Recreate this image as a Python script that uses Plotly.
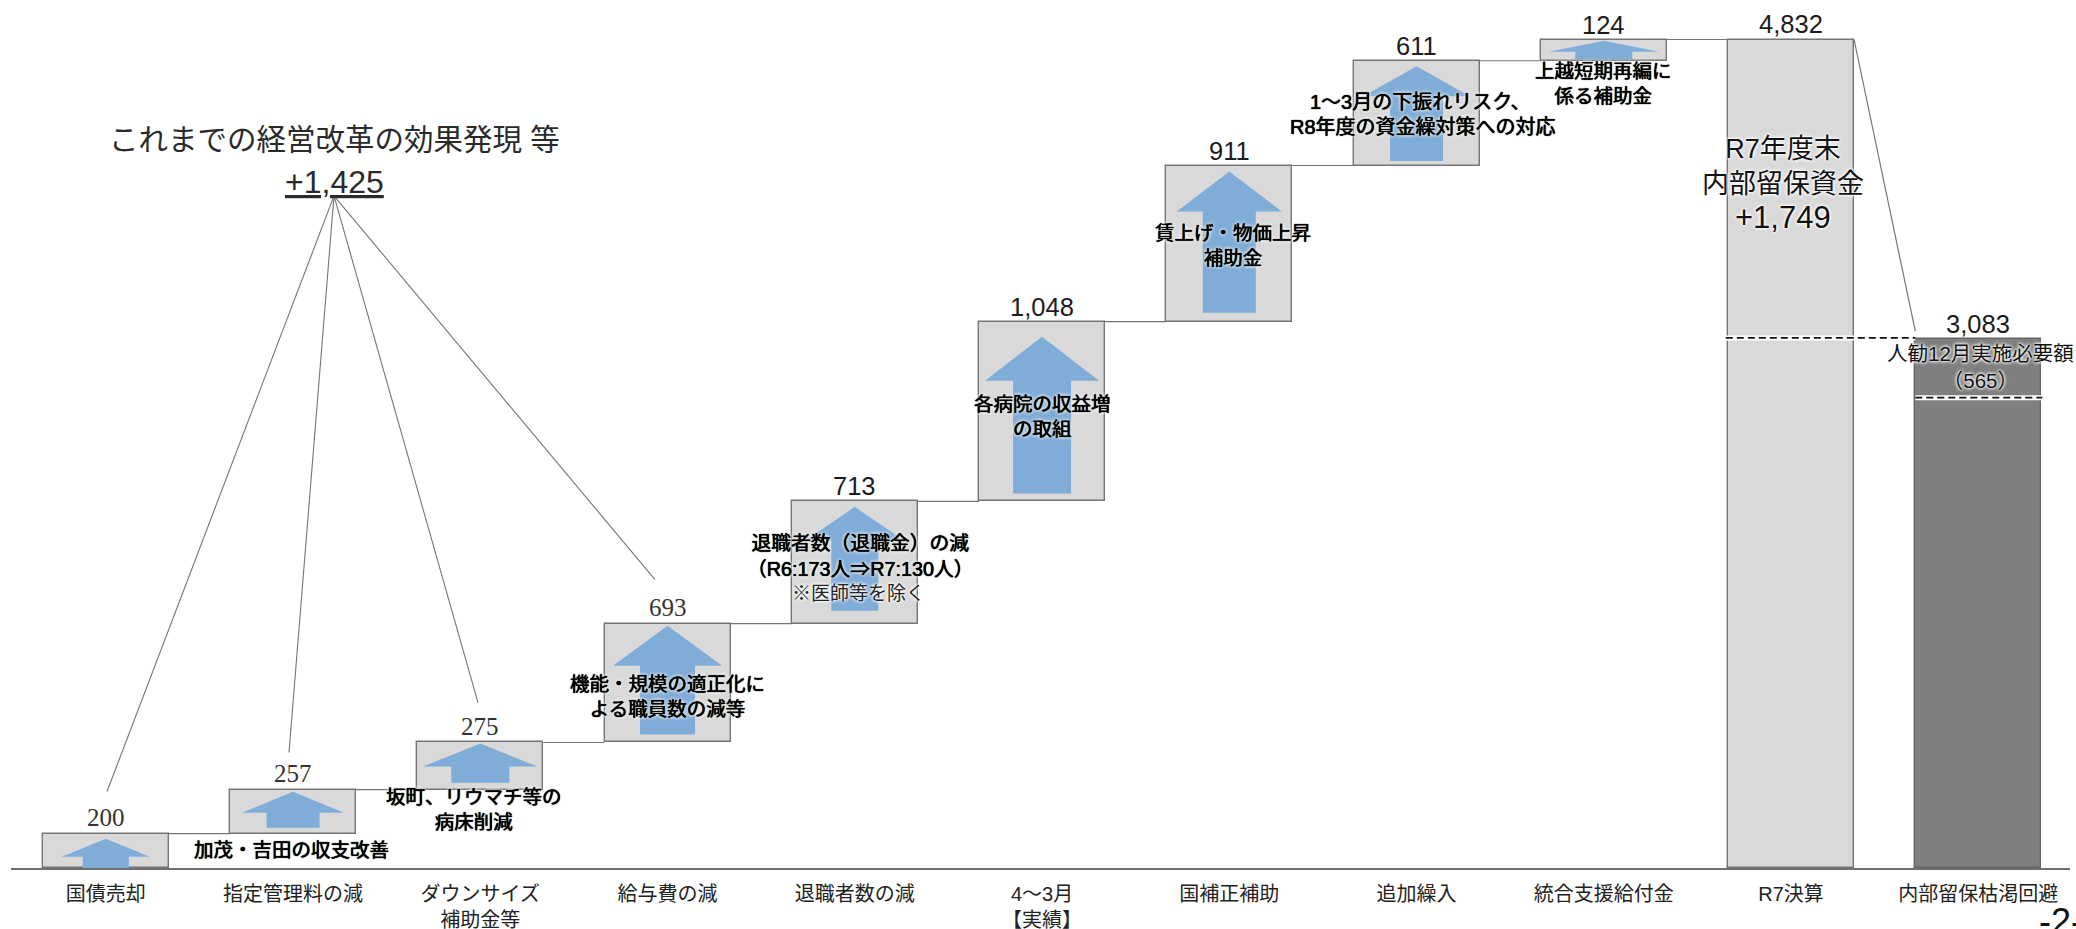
import plotly.graph_objects as go

# Fund balance build-up: each step adds to the running total, then two summary columns
categories = ["国債売却", "指定管理料の減", "ダウンサイズ<br>補助金等", "給与費の減", "退職者数の減",
              "4～3月<br>【実績】", "国補正補助", "追加繰入", "統合支援給付金", "R7決算", "内部留保枯渇回避"]
step_values = [200, 257, 275, 693, 713, 1048, 911, 611, 124]
settlement_total = 4832
depletion_total = 3083
retained_funds = 1749
review_amount = 565
split_level = 2743

# Page geometry
W, H = 2076, 929
M_L, M_R, M_B = 11, 6, 60.5
PX_PER_UNIT = 0.17156
PLOT_H = H - M_B
CENTER0, SPACING = 105.8, 187.25
BAR_W = 0.673

GREY_LINE = "#757575"
LIGHT = "#d9d9d9"
DARK = "#7f7f7f"
BLUE = "#7fadd8"
SANS = "Liberation Sans, Noto Sans CJK JP"
SERIF = "Liberation Serif, Noto Sans CJK JP"
HALO = "0 0 3px #fff, 0 0 3px #fff, 0 0 4px #fff"
# A hair of dark blur under the glyphs thickens them, on top of the white glow
HEAVY_HALO = "0 0 0.8px #000, 0 0 0.8px #000, 0 0 3px #fff, 0 0 3px #fff, 0 0 4px #fff"

# Arrow proportions per step, in pixels: head width, shaft width, tip inset, head height, foot inset
arrow_style = [
    (88, 46, 5, 18, 0),
    (102, 53, 2, 21, 6),
    (114, 58, 1, 23, 7),
    (109, 55, 2, 40, 8),
    (100, 47, 5.5, 34, 13),
    (114, 58, 15, 44, 8),
    (105, 53, 6, 40, 9),
    (106, 53, 5.5, 30, 4.5),
    (110, 57, 1.2, 11, 1.5),
]

bases, running = [], 0
for v in step_values:
    bases.append(running)
    running += v
tops = [b + v for b, v in zip(bases, step_values)]

n = len(categories)
x_idx = list(range(n))
heights = step_values + [settlement_total, depletion_total]
bar_bases = bases + [0, 0]
fills = [LIGHT] * (n - 1) + [DARK]
outlines = [GREY_LINE] * (n - 1) + ["#666666"]

fig = go.Figure()
fig.add_trace(go.Bar(
    x=x_idx, y=heights, base=bar_bases, width=BAR_W,
    marker=dict(color=fills, line=dict(color=outlines, width=1.4)),
    showlegend=False, hoverinfo="skip",
))

# Block arrows inside each step
for i, (base, top, style) in enumerate(zip(bases, tops, arrow_style)):
    head_w, shaft_w, tip_in, head_h, foot_in = style
    hw = head_w / 2 / SPACING
    sw = shaft_w / 2 / SPACING
    tip = top - tip_in / PX_PER_UNIT
    neck = tip - head_h / PX_PER_UNIT
    foot = base + foot_in / PX_PER_UNIT
    fig.add_trace(go.Scatter(
        x=[i, i + hw, i + sw, i + sw, i - sw, i - sw, i - hw, i],
        y=[tip, neck, neck, foot, foot, neck, neck, tip],
        mode="lines", fill="toself", fillcolor=BLUE, line=dict(width=0),
        showlegend=False, hoverinfo="skip",
    ))

# Connectors between neighbouring columns
conn_x, conn_y = [], []
for i, top in enumerate(tops):
    conn_x += [i + BAR_W / 2, i + 1 - BAR_W / 2, None]
    conn_y += [top, top, None]
conn_x += [9 + BAR_W / 2, 10 - BAR_W / 2]
conn_y += [settlement_total, depletion_total + 48]
fig.add_trace(go.Scatter(x=conn_x, y=conn_y, mode="lines", line=dict(color=GREY_LINE, width=1.2),
                         showlegend=False, hoverinfo="skip", cliponaxis=False))

# Dashed levels, each with a white band behind it
remaining = settlement_total - retained_funds
levels = [
    ([9 - BAR_W / 2 - 0.012, 10 - BAR_W / 2], remaining + 1.5 / PX_PER_UNIT),
    ([10 - BAR_W / 2, 10 + BAR_W / 2 + 0.005], split_level),
]
for xs, lvl in levels:
    fig.add_trace(go.Scatter(x=xs, y=[lvl, lvl], mode="lines", line=dict(color="#ffffff", width=5),
                             showlegend=False, hoverinfo="skip"))
    fig.add_trace(go.Scatter(x=xs, y=[lvl, lvl], mode="lines",
                             line=dict(color="#111111", width=1.7, dash="7px,4px"),
                             showlegend=False, hoverinfo="skip"))

# Value labels above each column
for i, (top, value) in enumerate(zip(bar_bases, heights)):
    serif = i < 4
    fig.add_annotation(
        x=i, y=top + value, xref="x", yref="y", text=f"{value:,}", showarrow=False,
        yanchor="bottom", xanchor="center", yshift=0.5 if serif else -1,
        font=dict(family=SERIF if serif else SANS, size=25 if serif else 25.5,
                  color="#333333" if serif else "#1c1c1c"),
    )


def px(x):
    return (x - M_L) / (W - M_L - M_R)


def py(y):
    return (PLOT_H - y) / PLOT_H


def note(text, x, y, size=19.5, halo=HEAVY_HALO, xanchor="center", color="#000000"):
    font = dict(family=SANS, size=size, color=color)
    if halo:
        font["shadow"] = halo
    fig.add_annotation(text=text, x=px(x), y=py(y), xref="paper", yref="paper", showarrow=False,
                       xanchor=xanchor, yanchor="middle", font=font, align="center")


# Fan of leader lines from the summary figure
fan_origin = (334, 196)
fan_ends = [(107, 792), (289, 753), (478, 703), (655, 580)]
for ex, ey in fan_ends:
    fig.add_shape(type="line", xref="paper", yref="paper",
                  x0=px(fan_origin[0]), y0=py(fan_origin[1]), x1=px(ex), y1=py(ey),
                  line=dict(color="#757575", width=1.1))

note("これまでの経営改革の効果発現 等", 334, 140, size=29.5, halo=None, color="#2a2a2a")
note("<u>+1,425</u>", 334, 182, size=32, halo=None, color="#2a2a2a")

note("加茂・吉田の収支改善", 291, 850, size=19.5)
note("坂町、リウマチ等の<br>病床削減", 474, 810)
note("機能・規模の適正化に<br>よる職員数の減等", 667, 697)
note("退職者数（退職金）の減<br>（R6:173人⇒R7:130人）", 860, 556, size=19.8)
note("※医師等を除く", 858, 594, size=19, halo=HALO, color="#222222")
note("各病院の収益増<br>の取組", 1042, 417)
note("賃上げ・物価上昇<br>補助金", 1233, 246)
note("1～3月の下振れリスク、", 1420, 102, size=20)
note("R8年度の資金繰対策への対応", 1423, 127, size=20)
note("上越短期再編に<br>係る補助金", 1603, 84, size=19.5)
note("R7年度末<br>内部留保資金", 1783, 167, size=27, halo=HALO, color="#111111")
note("+1,749", 1783, 218, size=31, halo=HALO, color="#111111")
note("人勧12月実施必要額<br>（565）", 1980, 367, size=20.5, halo=HALO, color="#111111")
note("-2-", 2037, 922, size=36, halo=None, xanchor="left", color="#111111")

fig.update_layout(
    width=W, height=H, autosize=False,
    margin=dict(l=M_L, r=M_R, t=0, b=M_B, pad=0),
    paper_bgcolor="#ffffff", plot_bgcolor="#ffffff",
    showlegend=False, bargap=0,
    font=dict(family=SANS),
    xaxis=dict(
        range=[(M_L - CENTER0) / SPACING, (W - M_R - CENTER0) / SPACING],
        tickmode="array", tickvals=x_idx, ticktext=categories,
        tickfont=dict(family=SANS, size=20, color="#222222"),
        ticks="", ticklabelstandoff=7, showgrid=False, zeroline=False, automargin=False,
        showline=True, linecolor="#707070", linewidth=1.6, fixedrange=True,
    ),
    yaxis=dict(range=[0, PLOT_H / PX_PER_UNIT], visible=False, showgrid=False,
               zeroline=False, fixedrange=True),
)

fig.write_html("out.html", config=dict(displayModeBar=False))
